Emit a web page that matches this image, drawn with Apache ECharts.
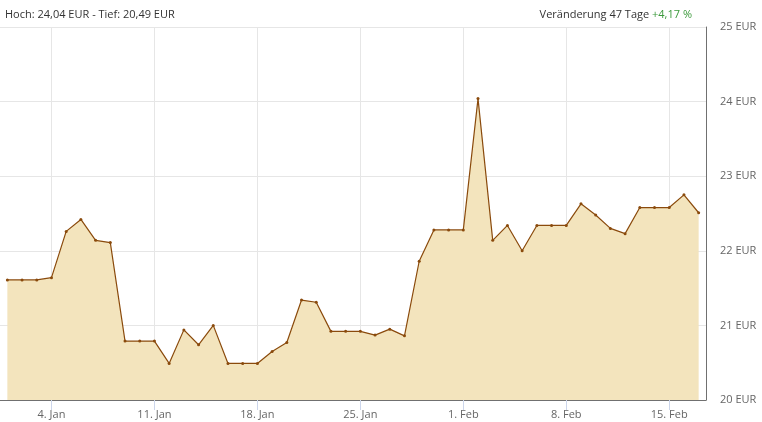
<!DOCTYPE html>
<html><head><meta charset="utf-8">
<script src="https://cdn.jsdelivr.net/npm/echarts@6/dist/echarts.min.js"></script>
<style>html,body{margin:0;padding:0;background:#fff}#c{width:762px;height:422px}</style>
</head><body><div id="c"></div>
<script>
const categories = ['1. Jan','2. Jan','3. Jan','4. Jan','5. Jan','6. Jan','7. Jan','8. Jan','9. Jan','10. Jan',
'11. Jan','12. Jan','13. Jan','14. Jan','15. Jan','16. Jan','17. Jan','18. Jan','19. Jan','20. Jan',
'21. Jan','22. Jan','23. Jan','24. Jan','25. Jan','26. Jan','27. Jan','28. Jan','29. Jan','30. Jan',
'31. Jan','1. Feb','2. Feb','3. Feb','4. Feb','5. Feb','6. Feb','7. Feb','8. Feb','9. Feb',
'10. Feb','11. Feb','12. Feb','13. Feb','14. Feb','15. Feb','16. Feb','17. Feb'];
const prices = [21.61,21.61,21.61,21.64,22.26,22.42,22.14,22.11,20.79,20.79,
20.79,20.49,20.94,20.74,21.00,20.49,20.49,20.49,20.65,20.77,
21.34,21.31,20.92,20.92,20.92,20.87,20.95,20.86,21.86,22.28,
22.28,22.28,24.04,22.14,22.34,22.00,22.34,22.34,22.34,22.63,
22.48,22.30,22.23,22.58,22.58,22.58,22.75,22.51];
const tickLabels = ['4. Jan','11. Jan','18. Jan','25. Jan','1. Feb','8. Feb','15. Feb'];
const yTicks = [20,21,22,23,24,25];
const headerLeft = 'Hoch: 24,04 EUR - Tief: 20,49 EUR';
const headerRightLabel = 'Veränderung 47 Tage ';
const headerRightValue = '+4,17 %';

const showIdx = (i) => tickLabels.indexOf(categories[i]) >= 0;
const chart = echarts.init(document.getElementById('c'), null, {renderer:'canvas'});
const FONT = '"Open Sans", sans-serif';
chart.setOption({
  animation:false,
  title:[
    {text:headerLeft, left:5, top:9, padding:0,
     textStyle:{fontFamily:FONT, fontSize:11, fontWeight:'normal', color:'#333'}},
    {text:'{a|'+headerRightLabel+'}{b|'+headerRightValue+'}', right:70, top:9, padding:0,
     textStyle:{fontFamily:FONT, fontSize:11, fontWeight:'normal', color:'#333',
       rich:{a:{fontFamily:FONT,fontSize:11,color:'#333'}, b:{fontFamily:FONT,fontSize:11,color:'#3c9a3c'}}}}
  ],
  grid:{left:0, right:56, top:27, bottom:22, containLabel:false},
  xAxis:{
    type:'category', data:categories, boundaryGap:true,
    axisLine:{show:true, lineStyle:{color:'#707070', width:1}},
    axisTick:{show:true, alignWithLabel:true, interval:(i)=>showIdx(i), length:10, lineStyle:{color:'#ccd6eb'}},
    axisLabel:{interval:(i)=>showIdx(i), color:'#666', fontFamily:FONT, fontSize:11, margin:9},
    splitLine:{show:true, alignWithLabel:true, interval:(i)=>showIdx(i), lineStyle:{color:'#e6e6e6'}}
  },
  yAxis:{
    type:'value', position:'right', min:yTicks[0], max:yTicks[yTicks.length-1], interval:1,
    axisLine:{show:true, lineStyle:{color:'#707070'}},
    axisTick:{show:false},
    axisLabel:{formatter:'{value} EUR', color:'#666', fontFamily:FONT, fontSize:11, margin:14},
    splitLine:{show:true, lineStyle:{color:'#e6e6e6'}}
  },
  series:[{
    type:'line', data:prices,
    symbol:'circle', symbolSize:3, showSymbol:true,
    itemStyle:{color:'#8a4a0c'},
    lineStyle:{color:'#8a4a0c', width:1.2},
    areaStyle:{color:'#f3e4bd', opacity:1}
  }]
});
</script></body></html>
